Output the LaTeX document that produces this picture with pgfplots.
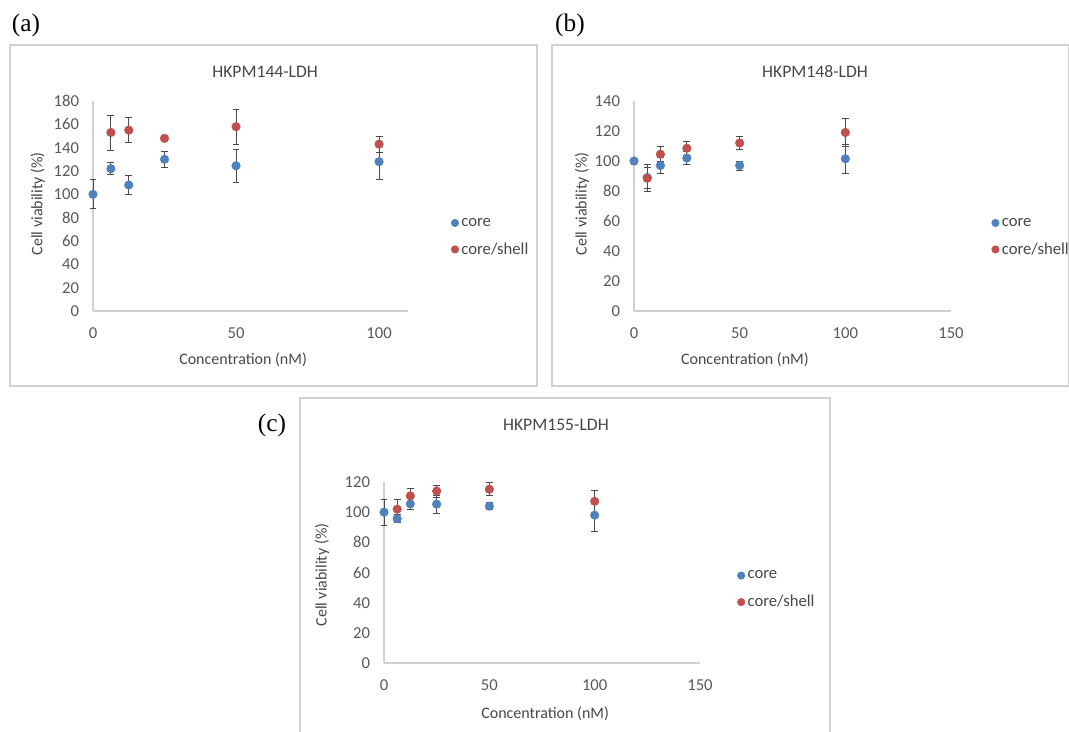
\documentclass[border=0pt]{standalone}
\usepackage{pgfplots}
\pgfplotsset{compat=1.18}
\usepackage{fontspec}
\setmainfont{Carlito}
\newfontfamily\serif{Liberation Serif}
\definecolor{exblue}{HTML}{4F81BD}
\definecolor{exred}{HTML}{C0504D}
\definecolor{txtgray}{HTML}{595959}
\definecolor{axgray}{HTML}{D0D0D0}
\definecolor{ebar}{HTML}{4A4A4A}

\pgfplotsset{
  exstyle/.style={
    scale only axis,
    axis lines*=left,
    axis line style={draw=axgray, line width=0.8pt},
    major tick length=0pt,
    ymin=0,
    ticklabel style={font=\fontsize{12.5}{14}\selectfont, text=txtgray},
    /pgf/number format/assume math mode=true,
    xticklabel style={yshift=-9pt},
    yticklabel style={xshift=-7pt},
    every axis title shift=0pt,
    title style={font=\fontsize{13.2}{15}\selectfont, text=txtgray!80!black, anchor=center, yshift=0pt},
    label style={font=\fontsize{12}{14}\selectfont, text=txtgray!80!black},
    clip=false,
    legend cell align=left,
    legend style={draw=none, fill=none, anchor=west, font=\fontsize{12.5}{14}\selectfont, text=txtgray!80!black, row sep=7pt,
      /tikz/every even column/.append style={column sep=0pt}},
    legend image code/.code={\draw[##1, mark size=2.8pt] plot coordinates {(0.05cm,0cm)};},
  },
  coreplot/.style={only marks, mark=*, mark size=3.2pt, color=exblue, mark options={fill=exblue, draw=exblue},
    error bars/.cd, y dir=both, y explicit,
    error bar style={ebar, line width=0.7pt},
    error mark options={ebar, mark size=2.6pt, line width=0.7pt, rotate=90}},
  shellplot/.style={only marks, mark=*, mark size=3.2pt, color=exred, mark options={fill=exred, draw=exred},
    error bars/.cd, y dir=both, y explicit,
    error bar style={ebar, line width=0.7pt},
    error mark options={ebar, mark size=2.6pt, line width=0.7pt, rotate=90}},
}

\begin{document}
\begin{tikzpicture}
\useasboundingbox (0pt,0pt) rectangle (801.75pt,-548.25pt);
\begin{scope}[x=0.75pt,y=-0.75pt]
  \draw[axgray, line width=0.8pt] (10,45) rectangle (537,386);
  \draw[axgray, line width=0.8pt] (552,45) rectangle (1068.5,386);
  \draw[axgray, line width=0.8pt] (300,398) rectangle (830,735);
  \node[font=\serif\fontsize{19}{21}\selectfont] at (26,25) {(a)};
  \node[font=\serif\fontsize{19}{21}\selectfont] at (570,25) {(b)};
  \node[font=\serif\fontsize{19}{21}\selectfont] at (272,425) {(c)};
\end{scope}

% (a)
\begin{axis}[exstyle,
  at={(69.75pt,-233.25pt)}, anchor=south west,
  width=236pt, height=157.5pt,
  xmin=0, xmax=110, ymax=180,
  xtick={0,50,100}, ytick={0,20,...,180},
  title={HKPM144-LDH}, title style={at={(axis description cs:0.547,1.138)}},
  xlabel={Concentration (nM)}, xlabel style={at={(axis description cs:0.477,-0.232)}, anchor=center},
  ylabel={Cell viability (\%)}, ylabel style={at={(axis description cs:-0.175,0.51)}, anchor=center},
  legend style={at={(axis description cs:1.125,0.352)}},
]
\addplot+[coreplot] table[x index=0, y index=1, y error index=2] {
0 100 12.5
6.25 122 5
12.5 108 8
25 130 7
50 124.5 14
100 128 15
};
\addplot+[shellplot] table[x index=0, y index=1, y error index=2] {
6.25 153 15
12.5 155 10.5
25 148 2
50 158 15
100 143 7
};
\legend{core, core/shell}
\end{axis}

% (b)
\begin{axis}[exstyle,
  at={(475.5pt,-233.25pt)}, anchor=south west,
  width=237.75pt, height=157.5pt,
  xmin=0, xmax=150, ymax=140,
  xtick={0,50,100,150}, ytick={0,20,...,140},
  title={HKPM148-LDH}, title style={at={(axis description cs:0.571,1.138)}},
  xlabel={Concentration (nM)}, xlabel style={at={(axis description cs:0.35,-0.232)}, anchor=center},
  ylabel={Cell viability (\%)}, ylabel style={at={(axis description cs:-0.164,0.51)}, anchor=center},
  legend style={at={(axis description cs:1.115,0.352)}},
]
\addplot+[coreplot] table[x index=0, y index=1, y error index=2] {
0 100 2
6.25 89 7
12.5 97 5.5
25 102 4.5
50 97 3
100 101.5 9.5
};
\addplot+[shellplot] table[x index=0, y index=1, y error index=2] {
6.25 88.5 9
12.5 104.5 5
25 108.5 4.5
50 112 4.5
100 119 9.5
};
\legend{core, core/shell}
\end{axis}

% (c)
\begin{axis}[exstyle,
  at={(288pt,-497.25pt)}, anchor=south west,
  width=237pt, height=135.75pt,
  xmin=0, xmax=150, ymax=120,
  xtick={0,50,100,150}, ytick={0,20,...,120},
  title={HKPM155-LDH}, title style={at={(axis description cs:0.544,1.315)}},
  xlabel={Concentration (nM)}, xlabel style={at={(axis description cs:0.51,-0.28)}, anchor=center},
  ylabel={Cell viability (\%)}, ylabel style={at={(axis description cs:-0.196,0.486)}, anchor=center},
  legend style={at={(axis description cs:1.105,0.405)}},
]
\addplot+[coreplot] table[x index=0, y index=1, y error index=2] {
0 100 8.5
6.25 95.7 2.5
12.5 105.5 4
25 105.3 6
50 104 2.5
100 98 10.5
};
\addplot+[shellplot] table[x index=0, y index=1, y error index=2] {
6.25 102 6.5
12.5 110.8 5
25 114 4
50 115.2 4.2
100 107.2 7.5
};
\legend{core, core/shell}
\end{axis}
\end{tikzpicture}
\end{document}
